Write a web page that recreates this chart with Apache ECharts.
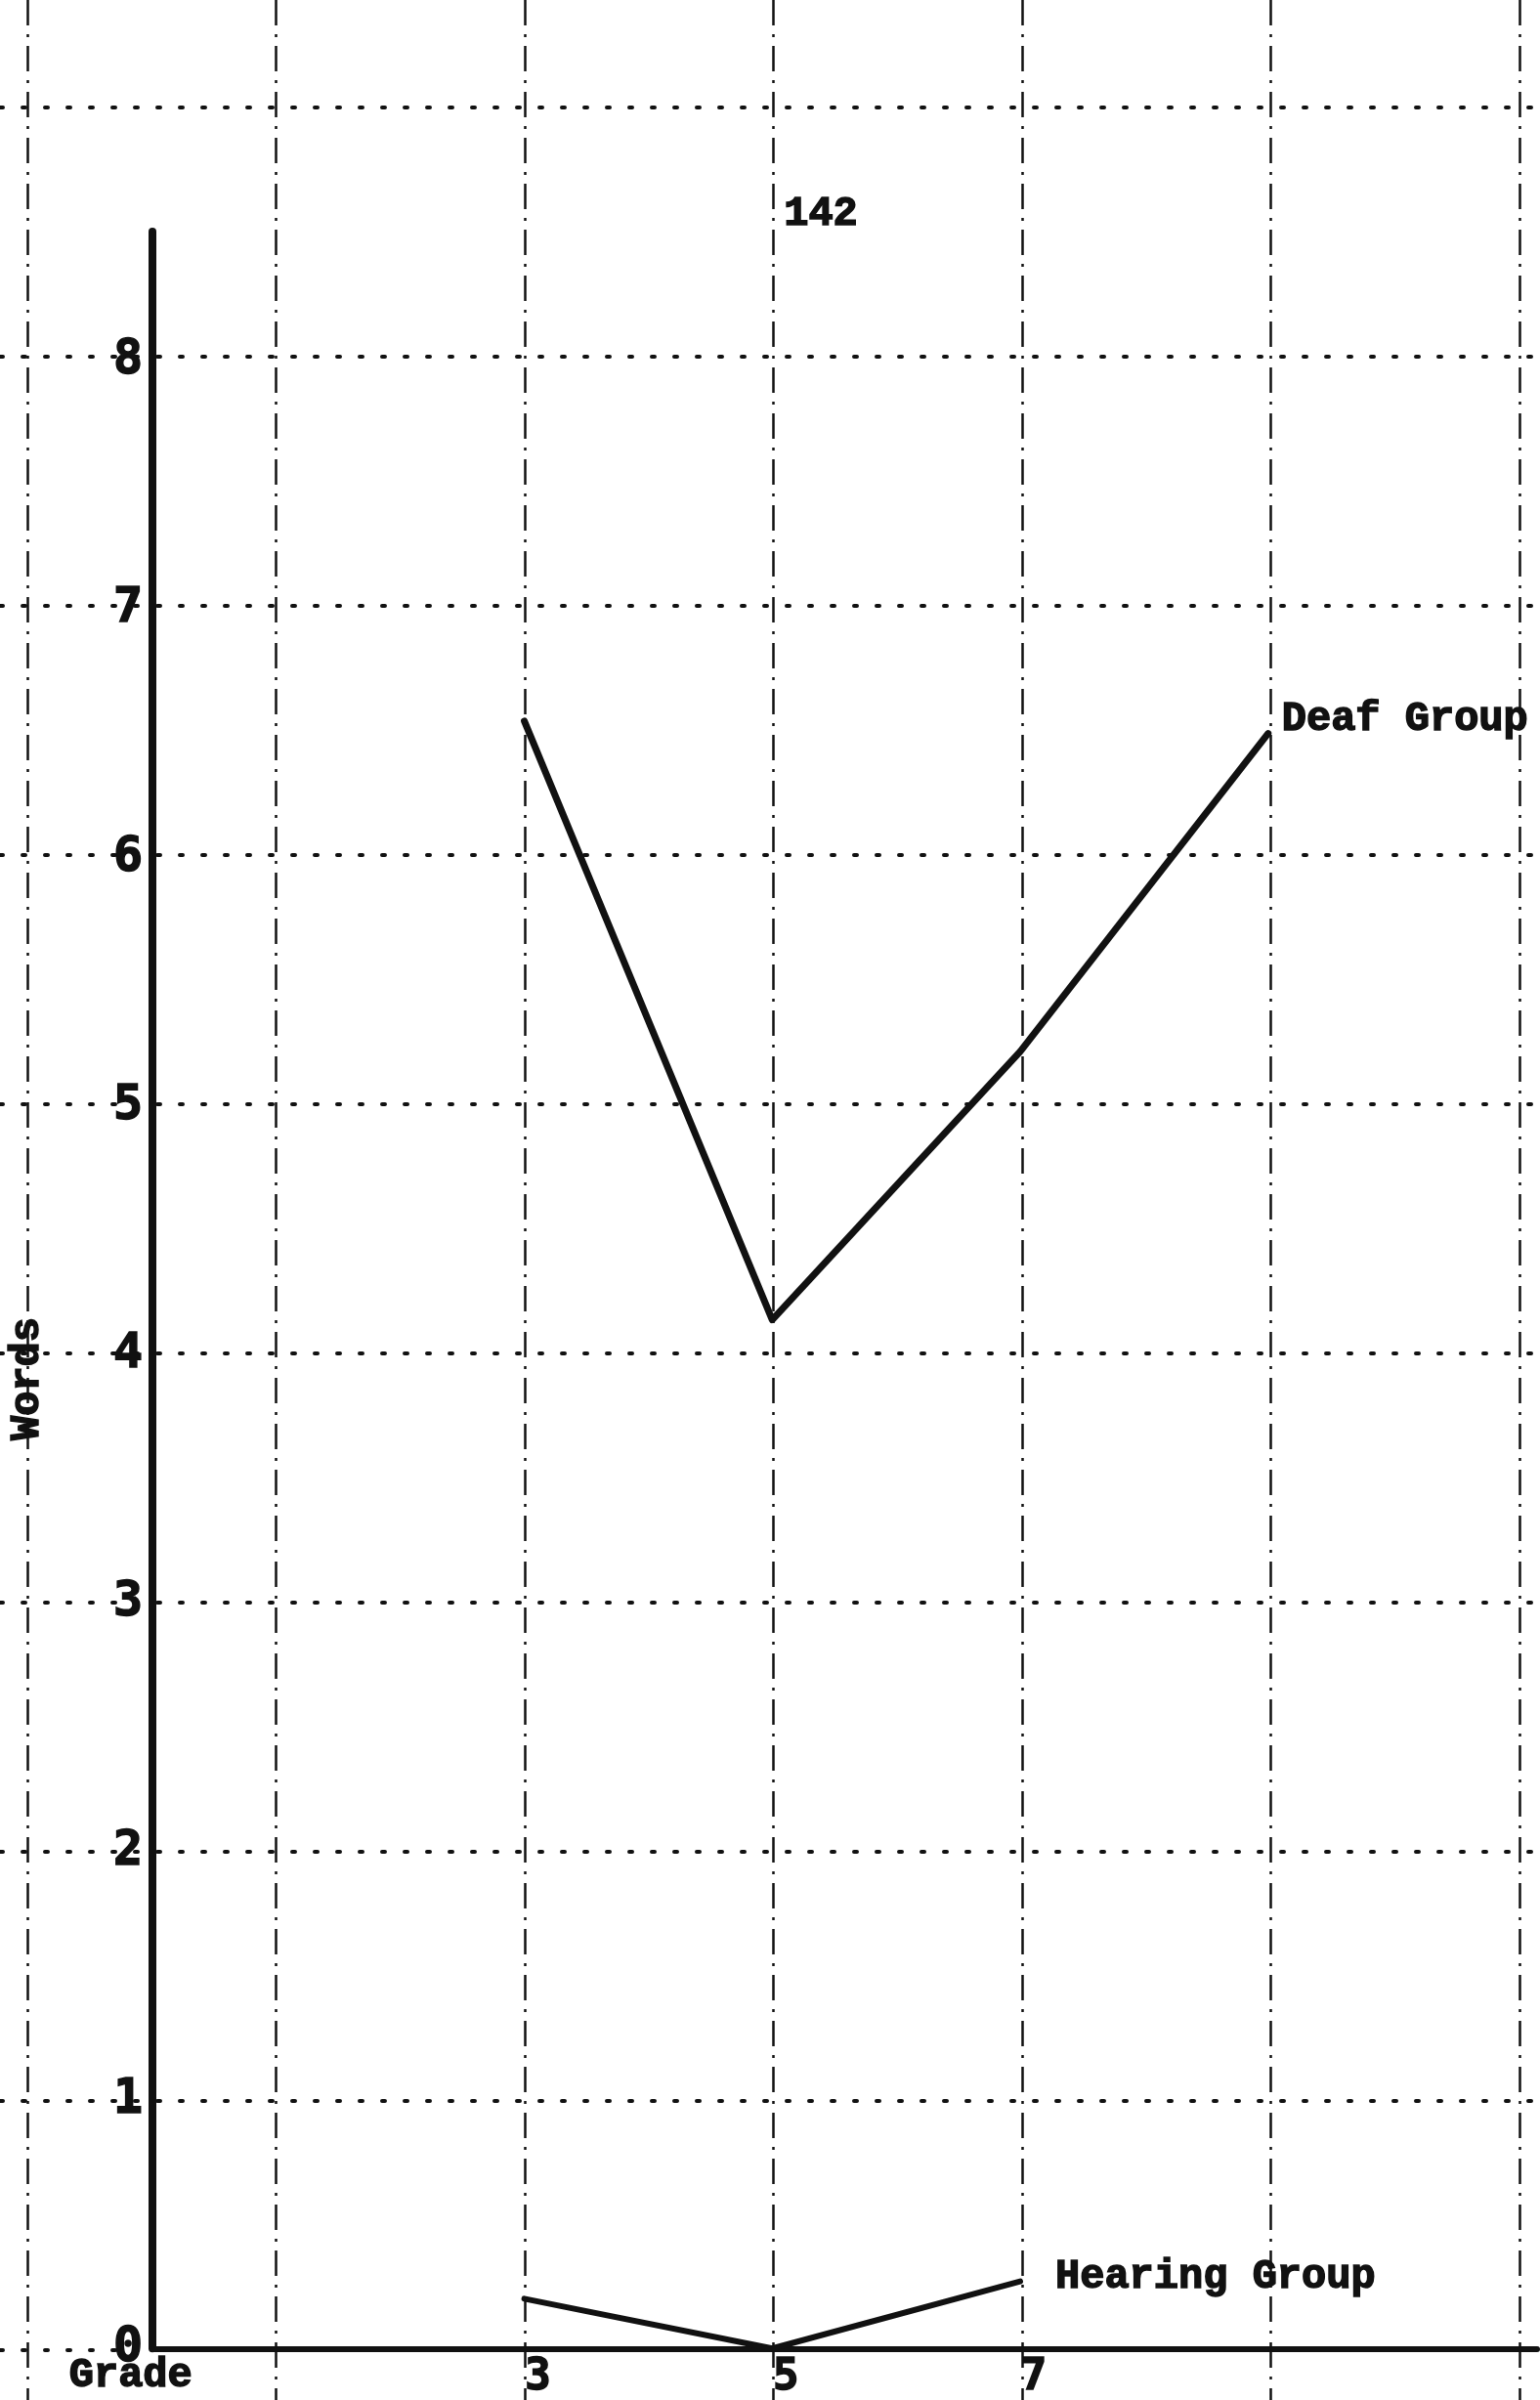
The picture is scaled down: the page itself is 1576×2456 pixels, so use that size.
<!DOCTYPE html>
<html>
<head>
<meta charset="utf-8">
<script src="https://cdn.jsdelivr.net/npm/echarts@6/dist/echarts.min.js"></script>
<style>
  html, body { margin: 0; padding: 0; background: #fff; }
  #chart { width: 1576px; height: 2456px; }
</style>
</head>
<body>
<div id="chart"></div>
<script>
// ---- data ----
const deafGrades = [3, 5, 7, 9];
const deafWords = [6.55, 4.14, 5.22, 6.5];
const hearingGrades = [3, 5, 7];
const hearingWords = [0.2, 0, 0.27];
const xTickLabels = [3, 5, 7];
const yTickLabels = [0, 1, 2, 3, 4, 5, 6, 7, 8];
const xAxisTitle = 'Grade';
const yAxisTitle = 'Words';
const pageNumber = '142';
const deafName = 'Deaf Group';
const hearingName = 'Hearing Group';

const INK = '#111';
const MONO = '"Liberation Mono", "DejaVu Sans Mono", monospace';
const DIGITS = '"DejaVu Sans Mono", "Liberation Mono", monospace';

function pairs(xs, ys) { return xs.map((x, i) => [x, ys[i]]); }

const chart = echarts.init(document.getElementById('chart'), null, { renderer: 'canvas' });

const option = {
  backgroundColor: '#ffffff',
  animation: false,
  grid: [
    // graph-paper verticals
    { left: 28, right: 21, top: 0, bottom: 0 },
    // graph-paper horizontals
    { left: 0, right: 0, top: 110, bottom: 51 },
    // plotting area
    { left: 156, right: 0, top: 237, bottom: 51 }
  ],
  xAxis: [
    { gridIndex: 0, type: 'value', min: -1, max: 11, interval: 2,
      axisLine: { show: false }, axisTick: { show: false }, axisLabel: { show: false },
      splitLine: { show: true, lineStyle: { color: INK, width: 2.5, type: [26, 9, 3, 9] } } },
    { gridIndex: 1, type: 'value', min: 0, max: 1,
      axisLine: { show: false }, axisTick: { show: false }, axisLabel: { show: false },
      splitLine: { show: false } },
    { gridIndex: 2, type: 'value', min: 0, max: 11.17, interval: 1,
      axisLine: { show: true, onZero: true, lineStyle: { color: INK, width: 6 } },
      axisTick: { show: false },
      splitLine: { show: false },
      axisLabel: {
        show: true, margin: 8, color: INK,
        fontFamily: DIGITS, fontWeight: 'bold', fontSize: 44,
        textBorderColor: INK, textBorderWidth: 1.5,
        padding: [0, 0, 0, 28],
        formatter: v => (xTickLabels.indexOf(v) >= 0 ? String(v) : '')
      } }
  ],
  yAxis: [
    { gridIndex: 0, type: 'value', min: 0, max: 1,
      axisLine: { show: false }, axisTick: { show: false }, axisLabel: { show: false },
      splitLine: { show: false } },
    { gridIndex: 1, type: 'value', min: 0, max: 9, interval: 1,
      axisLine: { show: false }, axisTick: { show: false }, axisLabel: { show: false },
      splitLine: { show: true, lineStyle: { color: INK, width: 4, type: [3, 20], cap: 'round' } } },
    { gridIndex: 2, type: 'value', min: 0, max: 8.52, interval: 1,
      axisLine: { show: true, onZero: true, lineStyle: { color: INK, width: 8 } },
      axisTick: { show: false },
      splitLine: { show: false },
      axisLabel: {
        show: true, margin: 10, color: INK,
        fontFamily: DIGITS, fontWeight: 'bold', fontSize: 50,
        textBorderColor: INK, textBorderWidth: 1.5,
        showMaxLabel: false,
        formatter: v => (yTickLabels.indexOf(v) >= 0 ? String(v) : '')
      } }
  ],
  series: [
    {
      name: deafName, type: 'line', xAxisIndex: 2, yAxisIndex: 2,
      data: pairs(deafGrades, deafWords),
      symbol: 'none', smooth: false,
      lineStyle: { color: INK, width: 7, cap: 'round', join: 'round' },
      endLabel: {
        show: true, formatter: deafName, color: INK,
        fontFamily: MONO, fontWeight: 'bold', fontSize: 42,
        textBorderColor: INK, textBorderWidth: 1.5,
        distance: 14, offset: [0, -14]
      }
    },
    {
      name: hearingName, type: 'line', xAxisIndex: 2, yAxisIndex: 2,
      data: pairs(hearingGrades, hearingWords),
      symbol: 'none', smooth: false,
      lineStyle: { color: INK, width: 6, cap: 'round', join: 'round' },
      endLabel: {
        show: true, formatter: hearingName, color: INK,
        fontFamily: MONO, fontWeight: 'bold', fontSize: 42,
        textBorderColor: INK, textBorderWidth: 1.5,
        distance: 36, offset: [0, -4]
      }
    }
  ],
  graphic: [
    { type: 'text', left: 70, top: 2410,
      style: { text: xAxisTitle, fill: INK, font: 'bold 42px ' + MONO,
               stroke: INK, lineWidth: 1.5 } },
    { type: 'text', x: 28, y: 1411, rotation: Math.PI / 2,
      style: { text: yAxisTitle, fill: INK, font: 'bold 42px ' + MONO,
               stroke: INK, lineWidth: 1.5,
               align: 'center', verticalAlign: 'middle' } },
    { type: 'text', x: 840, y: 219,
      style: { text: pageNumber, fill: INK, font: 'bold 42px ' + MONO,
               stroke: INK, lineWidth: 1.5,
               align: 'center', verticalAlign: 'middle' } }
  ]
};

chart.setOption(option);
</script>
</body>
</html>
